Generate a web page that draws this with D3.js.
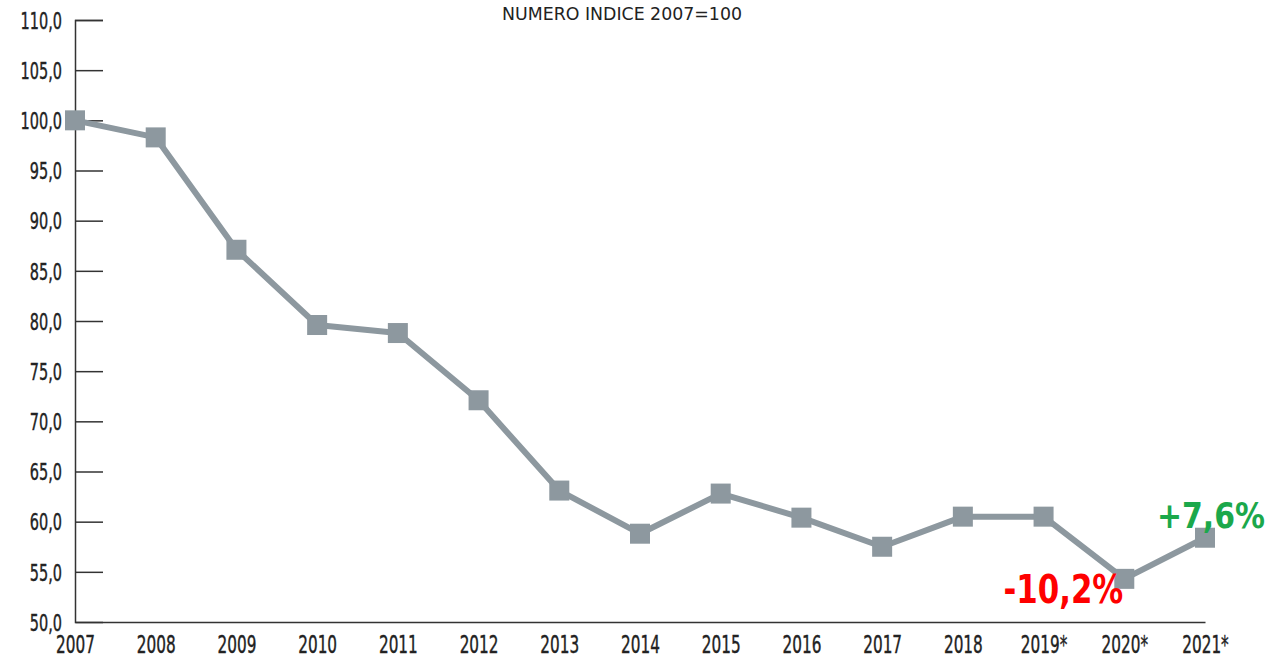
<!DOCTYPE html>
<html>
<head>
<meta charset="utf-8">
<script src="https://cdn.jsdelivr.net/npm/d3@7"></script>
<style>
body { margin: 0; background: #fff; }
svg text { font-family: "DejaVu Sans Condensed", "DejaVu Sans", sans-serif; }
</style>
</head>
<body>
<script>
var w = 1265;
var h = 658;

var years = ["2007", "2008", "2009", "2010", "2011", "2012", "2013", "2014",
    "2015", "2016", "2017", "2018", "2019*", "2020*", "2021*"];
var values = [100.0, 98.3, 87.1, 79.6, 78.8, 72.1, 63.1, 58.8,
    62.8, 60.4, 57.5, 60.5, 60.5, 54.3, 58.4];
var yTicks = [50, 55, 60, 65, 70, 75, 80, 85, 90, 95, 100, 105, 110];
var notes = [
    { year: "2020*", text: "-10,2%", color: "#fe0000" },
    { year: "2021*", text: "+7,6%", color: "#1ba84b" }
];

var x = d3.scalePoint()
    .domain(years)
    .range([75, 1205]);

var y = d3.scaleLinear()
    .domain([50, 110])
    .range([622, 20]);

var svg = d3.select("body")
    .append("svg")
    .attr("width", w)
    .attr("height", h);

// title
svg.append("text")
    .attr("x", 622)
    .attr("y", 20)
    .attr("text-anchor", "middle")
    .attr("font-size", 18)
    .attr("fill", "#222")
    .attr("textLength", 240)
    .attr("lengthAdjust", "spacingAndGlyphs")
    .text("NUMERO INDICE 2007=100");

// y axis, ticks pointing inward
var yAxis = d3.axisRight(y)
    .tickValues(yTicks)
    .tickSize(28)
    .tickFormat(function(d) { return d3.format(".1f")(d).replace(".", ","); });

var gy = svg.append("g")
    .attr("transform", "translate(75,0)")
    .call(yAxis);
gy.select(".domain").attr("stroke", "#333").attr("stroke-width", 1.5);
gy.selectAll(".tick line").attr("stroke", "#333").attr("stroke-width", 1.5);
gy.selectAll(".tick").filter(function(d) { return d === 50; }).select("line").remove();
var sy = 0.7;
gy.selectAll(".tick text")
    .attr("x", -13 / sy)
    .attr("dy", "0.36em")
    .attr("transform", "scale(" + sy + ",1)")
    .attr("text-anchor", "end")
    .attr("font-size", 23)
    .attr("fill", "#222")
    .attr("stroke", "#222")
    .attr("stroke-width", 0.4)
    .attr("font-family", null);

// x axis
var xAxis = d3.axisBottom(x).tickSize(0).tickPadding(13);
var gx = svg.append("g")
    .attr("transform", "translate(0,622)")
    .call(xAxis);
gx.select(".domain").attr("stroke", "#333").attr("stroke-width", 1.5);
gx.selectAll(".tick text")
    .attr("font-size", 25)
    .attr("transform", "scale(0.68,1)")
    .attr("fill", "#222")
    .attr("stroke", "#222")
    .attr("stroke-width", 0.4)
    .attr("font-family", null)
    .attr("dy", "0.72em");

var line = d3.line()
    .x(function(d, i) { return x(years[i]); })
    .y(function(d) { return y(d); });

svg.append("path")
    .datum(values)
    .attr("d", line)
    .attr("fill", "none")
    .attr("stroke", "#8d989f")
    .attr("stroke-width", 6)
    .attr("stroke-linejoin", "round");

svg.selectAll("rect.marker")
    .data(values)
    .enter()
    .append("rect")
    .attr("class", "marker")
    .attr("x", function(d, i) { return x(years[i]) - 10; })
    .attr("y", function(d) { return y(d) - 10; })
    .attr("width", 20)
    .attr("height", 20)
    .attr("fill", "#8d989f");

// percentage notes
svg.append("text")
    .attr("transform", "translate(" + (x(notes[0].year) - 1) + "," + (y(values[13]) + 24) + ") scale(0.88,1)")
    .attr("text-anchor", "end")
    .attr("font-size", 39)
    .attr("font-weight", "bold")
    .attr("fill", notes[0].color)
    .text(notes[0].text);

svg.append("text")
    .attr("transform", "translate(1265," + (y(values[14]) - 10) + ") scale(0.95,1)")
    .attr("text-anchor", "end")
    .attr("font-size", 35)
    .attr("font-weight", "bold")
    .attr("fill", notes[1].color)
    .text(notes[1].text);
</script>
</body>
</html>
